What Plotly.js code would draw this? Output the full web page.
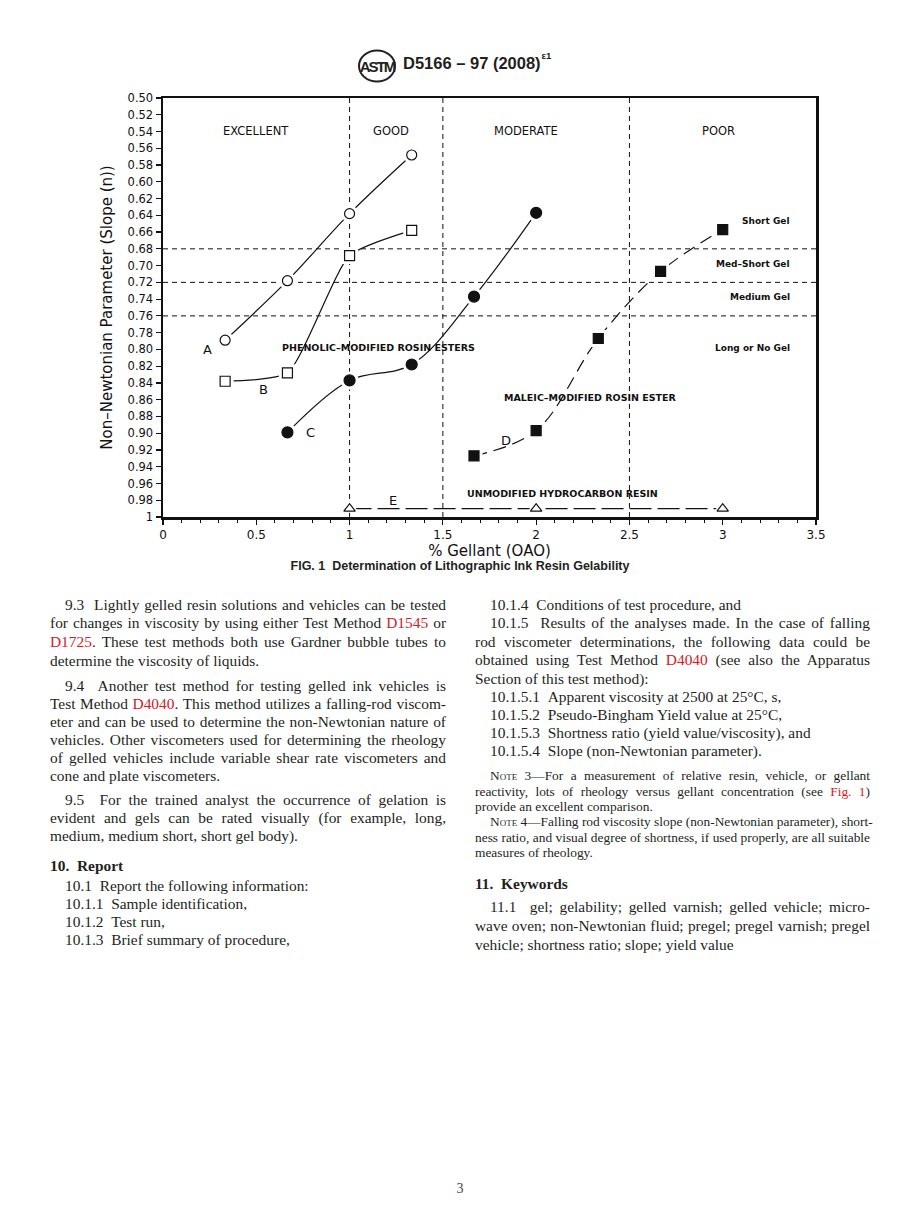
<!DOCTYPE html>
<html>
<head>
<meta charset="utf-8">
<script src="https://cdn.plot.ly/plotly-3.0.1.min.js"></script>
<style>
  html, body { margin: 0; padding: 0; background: #fff; }
  body { width: 920px; height: 1232px; position: relative; overflow: hidden; color: #231f20; }
  #chart { position: absolute; left: 0; top: 80px; width: 920px; height: 480px; }
  .hdr { position: absolute; left: 403px; top: 53px; font: bold 16.5px "Liberation Sans", Arial, sans-serif; white-space: nowrap; }
  .hdr sup { font-size: 9.5px; position: relative; top: -3px; margin-left: 1px; }
  .cap { position: absolute; left: 0; width: 920px; top: 559px; text-align: center; font: bold 12.5px "Liberation Sans", Arial, sans-serif; }
  .ln { position: absolute; height: 18px; line-height: 18px; font: 15.4px "Liberation Serif", "Times New Roman", serif; white-space: nowrap; }
  .L { left: 50px; width: 396px; }
  .R { left: 475px; width: 395px; }
  .in { padding-left: 15px; box-sizing: border-box; }
  .j { text-align: justify; text-align-last: justify; }
  .nt { font-size: 13.4px; height: 15px; line-height: 15px; }
  .sc { font-variant: small-caps; }
  .h { font-weight: bold; font-size: 15.4px; }
  .red { color: #d42027; }
  .pg { position: absolute; left: 0; width: 920px; top: 1181px; text-align: center; font: 14px "Liberation Serif", serif; color: #444; }
</style>
</head>
<body>
<svg style="position:absolute;left:357px;top:49px" width="40" height="34" viewBox="0 0 40 34">
  <ellipse cx="20" cy="17" rx="18" ry="15.5" fill="none" stroke="#222" stroke-width="2"/>
  <text x="20" y="23" text-anchor="middle" font-family="Liberation Sans" font-weight="bold" font-size="15" fill="#222" letter-spacing="-2">ASTM</text>
</svg>
<div class="hdr">D5166 – 97 (2008)<sup>ε1</sup></div>
<div id="chart"></div>
<div class="cap">FIG. 1&nbsp;&nbsp;Determination of Lithographic Ink Resin Gelability</div>

<!-- left column -->
<div class="ln L in j" style="top:596px">9.3&nbsp;&nbsp;Lightly gelled resin solutions and vehicles can be tested</div>
<div class="ln L j" style="top:614px">for changes in viscosity by using either Test Method <span class="red">D1545</span> or</div>
<div class="ln L j" style="top:633px"><span class="red">D1725</span>. These test methods both use Gardner bubble tubes to</div>
<div class="ln L" style="top:652px">determine the viscosity of liquids.</div>

<div class="ln L in j" style="top:677px">9.4&nbsp;&nbsp;Another test method for testing gelled ink vehicles is</div>
<div class="ln L j" style="top:695px">Test Method <span class="red">D4040</span>. This method utilizes a falling-rod viscom-</div>
<div class="ln L j" style="top:713px">eter and can be used to determine the non-Newtonian nature of</div>
<div class="ln L j" style="top:731px">vehicles. Other viscometers used for determining the rheology</div>
<div class="ln L j" style="top:749px">of gelled vehicles include variable shear rate viscometers and</div>
<div class="ln L" style="top:767px">cone and plate viscometers.</div>

<div class="ln L in j" style="top:791px">9.5&nbsp;&nbsp;For the trained analyst the occurrence of gelation is</div>
<div class="ln L j" style="top:809px">evident and gels can be rated visually (for example, long,</div>
<div class="ln L" style="top:827px">medium, medium short, short gel body).</div>

<div class="ln L h" style="top:857px">10.&nbsp;&nbsp;Report</div>
<div class="ln L in" style="top:877px">10.1&nbsp;&nbsp;Report the following information:</div>
<div class="ln L in" style="top:895px">10.1.1&nbsp;&nbsp;Sample identification,</div>
<div class="ln L in" style="top:913px">10.1.2&nbsp;&nbsp;Test run,</div>
<div class="ln L in" style="top:931px">10.1.3&nbsp;&nbsp;Brief summary of procedure,</div>

<!-- right column -->
<div class="ln R in" style="top:596px">10.1.4&nbsp;&nbsp;Conditions of test procedure, and</div>
<div class="ln R in j" style="top:614px">10.1.5&nbsp;&nbsp;Results of the analyses made. In the case of falling</div>
<div class="ln R j" style="top:633px">rod viscometer determinations, the following data could be</div>
<div class="ln R j" style="top:651px">obtained using Test Method <span class="red">D4040</span> (see also the Apparatus</div>
<div class="ln R" style="top:670px">Section of this test method):</div>
<div class="ln R in" style="top:688px">10.1.5.1&nbsp;&nbsp;Apparent viscosity at 2500 at 25°C, s,</div>
<div class="ln R in" style="top:706px">10.1.5.2&nbsp;&nbsp;Pseudo-Bingham Yield value at 25°C,</div>
<div class="ln R in" style="top:724px">10.1.5.3&nbsp;&nbsp;Shortness ratio (yield value/viscosity), and</div>
<div class="ln R in" style="top:742px">10.1.5.4&nbsp;&nbsp;Slope (non-Newtonian parameter).</div>

<div class="ln R in j nt" style="top:768px"><span class="sc">Note</span> 3—For a measurement of relative resin, vehicle, or gellant</div>
<div class="ln R j nt" style="top:784px">reactivity, lots of rheology versus gellant concentration (see <span class="red">Fig. 1</span>)</div>
<div class="ln R nt" style="top:799px">provide an excellent comparison.</div>
<div class="ln R in j nt" style="top:814px"><span class="sc">Note</span> 4—Falling rod viscosity slope (non-Newtonian parameter), short-</div>
<div class="ln R j nt" style="top:830px">ness ratio, and visual degree of shortness, if used properly, are all suitable</div>
<div class="ln R nt" style="top:845px">measures of rheology.</div>

<div class="ln R h" style="top:875px">11.&nbsp;&nbsp;Keywords</div>
<div class="ln R in j" style="top:898px">11.1&nbsp;&nbsp;gel; gelability; gelled varnish; gelled vehicle; micro-</div>
<div class="ln R j" style="top:917px">wave oven; non-Newtonian fluid; pregel; pregel varnish; pregel</div>
<div class="ln R" style="top:936px">vehicle; shortness ratio; slope; yield value</div>

<div class="pg">3</div>

<script>
// ---- chart data ----
const gellantA = [0.333, 0.667, 1.0, 1.333];
const slopeA   = [0.789, 0.718, 0.638, 0.568];
const gellantB = [0.333, 0.667, 1.0, 1.333];
const slopeB   = [0.838, 0.828, 0.688, 0.658];
const gellantC = [0.667, 1.0, 1.333, 1.667, 2.0];
const slopeC   = [0.899, 0.837, 0.818, 0.737, 0.637];
const gellantD = [1.667, 2.0, 2.333, 2.667, 3.0];
const slopeD   = [0.927, 0.897, 0.787, 0.707, 0.657];
const gellantE = [1.0, 2.0, 3.0];
const slopeE   = [0.990, 0.990, 0.990];

const ratingBounds = [1.0, 1.5, 2.5];        // vertical dashed lines
const gelBounds    = [0.68, 0.72, 0.76];     // horizontal dashed lines

const xTickVals = [0, 0.5, 1, 1.5, 2, 2.5, 3, 3.5];
const xTickText = ["0", "0.5", "1", "1.5", "2", "2.5", "3", "3.5"];
const yTickVals = [0.50,0.52,0.54,0.56,0.58,0.60,0.62,0.64,0.66,0.68,0.70,0.72,0.74,0.76,0.78,0.80,0.82,0.84,0.86,0.88,0.90,0.92,0.94,0.96,0.98,1.00];
const yTickText = ["0.50","0.52","0.54","0.56","0.58","0.60","0.62","0.64","0.66","0.68","0.70","0.72","0.74","0.76","0.78","0.80","0.82","0.84","0.86","0.88","0.90","0.92","0.94","0.96","0.98","1"];

const ratingLabels = ["EXCELLENT", "GOOD", "MODERATE", "POOR"];
const ratingLabelX = [0.5, 1.221, 1.944, 2.975];
const gelLabels  = ["Short Gel", "Med\u2013Short Gel", "Medium Gel", "Long or No Gel"];
const gelLabelY  = [0.647, 0.698, 0.737, 0.798];
const curveLetters = ["A", "B", "C", "D", "E"];
const letterX = [0.241, 0.536, 0.793, 1.837, 1.232];
const letterY = [0.800, 0.848, 0.899, 0.909, 0.980];
const resinLabels = ["PHENOLIC\u2013MODIFIED ROSIN ESTERS", "MALEIC\u2013MODIFIED ROSIN ESTER", "UNMODIFIED HYDROCARBON RESIN"];
const resinLabelX = [1.154, 2.290, 2.140];
const resinLabelY = [0.798, 0.857, 0.972];

const F = "DejaVu Sans, Verdana, sans-serif";
const K = "#111";

// each series: line, white halo (leaves the small gap round every marker), marker
const series = [
  {x: gellantA, y: slopeA, sym: "circle",      size: 10, fill: "#fff", dash: "solid",    shape: "spline", smooth: 1.0},
  {x: gellantB, y: slopeB, sym: "square",      size: 10, fill: "#fff", dash: "solid",    shape: "spline", smooth: 0.55},
  {x: gellantC, y: slopeC, sym: "circle",      size: 11, fill: K,      dash: "solid",    shape: "spline", smooth: 1.0},
  {x: gellantD, y: slopeD, sym: "square",      size: 10, fill: K,      dash: "13px,7px", shape: "spline", smooth: 1.0},
  {x: gellantE, y: slopeE, sym: "triangle-up", size: 10, fill: "#fff", dash: "22px,6px", shape: "linear", smooth: 0}
];
const traces = [];
series.forEach(s => {
  traces.push({x: s.x, y: s.y, mode: "lines", hoverinfo: "skip",
    line: {color: K, width: 1.2, shape: s.shape, smoothing: s.smooth || undefined, dash: s.dash}});
});
series.forEach(s => {
  traces.push({x: s.x, y: s.y, mode: "markers", hoverinfo: "skip",
    marker: {symbol: s.sym, size: s.size + 7, color: "#fff"}});
});
series.forEach(s => {
  traces.push({x: s.x, y: s.y, mode: "markers",
    marker: {symbol: s.sym, size: s.size, color: s.fill, line: {color: K, width: 1.2}}});
});

const shapes = [];
ratingBounds.forEach(v => shapes.push({type: "line", xref: "x", yref: "paper", x0: v, x1: v, y0: 0, y1: 1,
  line: {color: K, width: 1, dash: "5px,4px"}, layer: "below"}));
gelBounds.forEach(v => shapes.push({type: "line", xref: "paper", yref: "y", x0: 0, x1: 1, y0: v, y1: v,
  line: {color: K, width: 1, dash: "5px,4px"}, layer: "below"}));

const annotations = [];
ratingLabels.forEach((t, i) => annotations.push({x: ratingLabelX[i], y: 0.539, xref: "x", yref: "y", text: t,
  showarrow: false, font: {family: F, size: 11.5, color: K}}));
gelLabels.forEach((t, i) => annotations.push({x: 3.374, y: gelLabelY[i], xref: "x", yref: "y", text: "<b>" + t + "</b>",
  xanchor: "right", showarrow: false, font: {family: F, size: 9, color: K}}));
curveLetters.forEach((t, i) => annotations.push({x: letterX[i], y: letterY[i], xref: "x", yref: "y", text: t,
  showarrow: false, font: {family: F, size: 13, color: K}}));
resinLabels.forEach((t, i) => annotations.push({x: resinLabelX[i], y: resinLabelY[i], xref: "x", yref: "y", text: "<b>" + t + "</b>",
  showarrow: false, font: {family: F, size: 9.5, color: K}}));

const layout = {
  width: 920, height: 480,
  margin: {l: 163, r: 104, t: 18, b: 43},
  paper_bgcolor: "rgba(0,0,0,0)", plot_bgcolor: "#fff",
  showlegend: false,
  font: {family: F, color: K},
  xaxis: {
    range: [0, 3.5], tickvals: xTickVals, ticktext: xTickText,
    ticks: "outside", ticklen: 5, tickwidth: 1.2, tickcolor: K,
    minor: {dtick: 0.1, ticks: "outside", ticklen: 3, tickcolor: K, tickwidth: 1},
    showgrid: false, zeroline: false,
    showline: true, linewidth: 2.5, linecolor: K, mirror: true,
    tickfont: {family: F, size: 12, color: K},
    title: {text: "% Gellant (OAO)", font: {family: F, size: 15, color: K}, standoff: 3}
  },
  yaxis: {
    range: [1, 0.5], tickvals: yTickVals, ticktext: yTickText,
    ticks: "outside", ticklen: 5, tickwidth: 1.2, tickcolor: K,
    showgrid: false, zeroline: false,
    showline: true, linewidth: 2.5, linecolor: K, mirror: true,
    tickfont: {family: F, size: 11.5, color: K},
    title: {text: "Non\u2013Newtonian Parameter (Slope (n))", font: {family: F, size: 15, color: K}, standoff: 12}
  },
  shapes: shapes,
  annotations: annotations
};

Plotly.newPlot("chart", traces, layout, {displayModeBar: false, staticPlot: true});
</script>
</body>
</html>
